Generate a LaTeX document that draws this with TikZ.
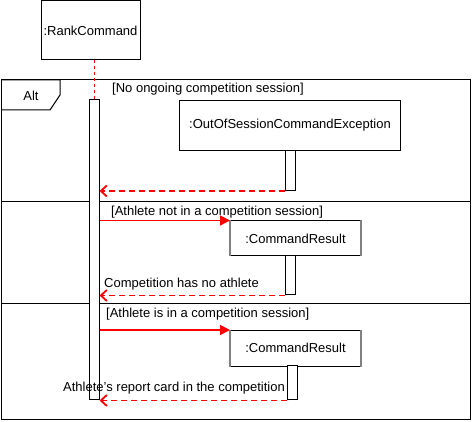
\documentclass[tikz,border=0pt]{standalone}
\usepackage{fontspec}
\setmainfont{Liberation Sans}
\usetikzlibrary{arrows.meta}
\begin{document}
\begin{tikzpicture}[x=1pt,y=-1pt,
  txt/.style={font=\fontsize{13}{15}\selectfont, inner sep=0pt},
  objbox/.style={draw=black, line width=1pt, fill=white, inner sep=0pt, font=\fontsize{13}{15}\selectfont},
  actbar/.style={draw=black, line width=1pt, fill=white, inner sep=0pt, minimum width=10pt},
  lifeline/.style={draw=red, line width=0.8pt, dash pattern=on 3pt off 3pt},
  callarrow/.style={draw=red, line width=1.6pt, -{Triangle[length=10pt,width=10pt]}},
  retarrow/.style={draw=red, line width=1.8pt, dash pattern=on 6pt off 4pt, -{Straight Barb[length=6pt,width=11pt]}},
  frameline/.style={draw=black, line width=1pt},
  greyedge/.style={draw=gray, line width=1.2pt}
]
\useasboundingbox (0,0) rectangle (472,422);

% Frame
\draw[frameline] (1,80) rectangle (470,420);
\draw[frameline] (1,80) -- (60,80) -- (60,95) -- (50,110) -- (1,110);
\node[txt] (alt) at (31,96) {Alt};
\draw[frameline] (1,202) -- (470,202);
\draw[frameline] (1,304) -- (470,304);

% RankCommand
\node[objbox, minimum width=99pt, minimum height=59pt] (rank) at (90.5,30.5) {:RankCommand};
\node[actbar, minimum height=300pt] (act) at (94,250) {};
\draw[lifeline] (act.north |- rank.south) -- (act.north);

% Section 1
\node[txt, anchor=west] (g1) at (112,89) {[No ongoing competition session]};
\node[objbox, minimum width=221pt, minimum height=50pt] (exc) at (290,125.5) {:OutOfSessionCommandException};
\node[actbar, minimum height=40pt] (act1) at (290.5,170.5) {};
\draw[retarrow] (act1.south west) -- (act.east |- act1.south west);

% Section 2
\node[txt, anchor=west] (g2) at (111,212) {[Athlete not in a competition session]};
\node[objbox, minimum width=130pt, minimum height=35pt] (res1) at (295.5,238.5) {:CommandResult};
\draw[greyedge] (res1.north west) -- (res1.south west);
\draw[greyedge] (res1.north east) -- (res1.south east);
\node[actbar, minimum height=39pt] (act2) at (290.5,275.5) {};
\draw[callarrow] (act.east |- res1.north west) -- (res1.north west);
\node[txt, anchor=west] (l2) at (104,284) {Competition has no athlete};
\draw[retarrow] (act2.south west) -- (act.east |- act2.south west);

% Section 3
\node[txt, anchor=west] (g3) at (106,314) {[Athlete is in a competition session]};
\node[objbox, minimum width=130pt, minimum height=36pt] (res2) at (295.5,348.5) {\raisebox{2pt}{:CommandResult}};
\draw[greyedge] (res2.north west) -- (res2.south west);
\draw[greyedge] (res2.north east) -- (res2.south east);
\node[actbar, minimum height=34pt] (act3) at (292.5,383) {};
\draw[callarrow] (act.east |- res2.north west) -- (res2.north west);
\node[txt, anchor=west] (l3) at (63,388) {Athlete's report card in the competition};
\draw[retarrow] (act3.south west) -- (act.east |- act3.south west);
\end{tikzpicture}
\end{document}
